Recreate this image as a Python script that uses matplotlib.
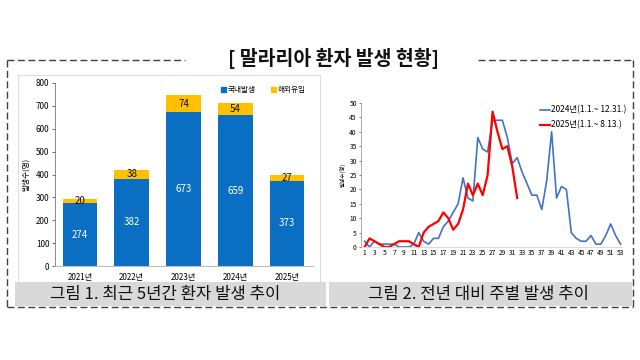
import matplotlib
matplotlib.use("Agg")
import matplotlib.pyplot as plt
from matplotlib.patches import Rectangle, Patch

plt.rcParams['font.family'] = ['Noto Sans CJK KR', 'DejaVu Sans']

# ---- data ----
years = ['2021년', '2022년', '2023년', '2024년', '2025년']
domestic = [274, 382, 673, 659, 373]
imported = [20, 38, 74, 54, 27]

weeks_2024 = list(range(1, 54))
cases_2024 = [2, 0, 2, 1, 1, 1, 1, 0, 0, 0, 1, 5, 2, 1, 3, 3, 7, 9, 12, 15,
              24, 17, 16, 38, 34, 33, 44, 44, 44, 38, 29, 31, 26, 22, 18, 18, 13, 23,
              40, 17, 21, 20, 5, 3, 2, 2, 4, 1, 1, 4, 8, 4, 1]
weeks_2025 = list(range(1, 33))
cases_2025 = [0, 3, 2, 1, 0, 0, 1, 2, 2, 2, 1, 0, 5, 7, 8, 9, 12, 10, 6, 8,
              13, 22, 18, 22, 18, 25, 47, 40, 34, 35, 28, 17]

W, H = 640, 360
fig = plt.figure(figsize=(6.4, 3.6), dpi=100)
fig.patch.set_facecolor('white')

# background / decoration layer in pixel coords
bg = fig.add_axes([0, 0, 1, 1], zorder=0)
bg.set_xlim(0, W)
bg.set_ylim(H, 0)
bg.axis('off')

dash = (0, (5, 2.5))
edge = '#404040'
# outer box
bg.plot([7, 185], [60, 60], color=edge, lw=1.0, ls=dash)
bg.plot([478, 633], [60, 60], color=edge, lw=1.0, ls=dash)
bg.plot([7, 7], [60, 307], color=edge, lw=1.0, ls=dash)
bg.plot([633, 633], [60, 307], color=edge, lw=1.0, ls=dash)
bg.plot([7, 633], [307, 307], color=edge, lw=1.0, ls=dash)
bg.text(334, 58, '[ 말라리아 환자 발생 현황]', ha='center', va='center',
        fontsize=14, fontweight='bold', color='#111111')

# left panel light frame
bg.add_patch(Rectangle((18, 75), 302, 207, fill=False, ec='#dddddd', lw=0.8))

# caption bands
bg.add_patch(Rectangle((15, 282), 311, 24, fc='#d9d9d9', ec='none'))
bg.add_patch(Rectangle((329, 282), 303, 24, fc='#d9d9d9', ec='none'))
bg.text(165, 294, '그림 1. 최근 5년간 환자 발생 추이', ha='center', va='center',
        fontsize=12, color='#111111')
bg.text(479, 294, '그림 2. 전년 대비 주별 발생 추이', ha='center', va='center',
        fontsize=12, color='#111111')

# ---- left: stacked bars ----
def px_axes(x0, y0, x1, y1):
    return [x0 / W, 1 - y1 / H, (x1 - x0) / W, (y1 - y0) / H]

ax1 = fig.add_axes(px_axes(55, 83, 313, 266), zorder=1)
ax1.set_facecolor('none')
blue = '#0a6fc2'
yellow = '#ffc000'
xs = list(range(len(years)))
ax1.bar(xs, domestic, width=0.67, color=blue, label='국내발생')
ax1.bar(xs, imported, width=0.67, bottom=domestic, color=yellow, label='해외유입')
for x, d, i in zip(xs, domestic, imported):
    ax1.text(x, d / 2, str(d), ha='center', va='center', color='white', fontsize=7)
    ax1.text(x, d + i / 2, str(i), ha='center', va='center', color='#111111', fontsize=7)
ax1.set_xlim(-0.48, 4.5)
ax1.set_ylim(0, 800)
ax1.set_yticks(range(0, 801, 100))
ax1.set_xticks(xs)
ax1.set_xticklabels(years)
ax1.tick_params(axis='y', labelsize=5.8, length=2, width=0.6, color='#555555', pad=2)
ax1.tick_params(axis='x', labelsize=5.8, length=0, pad=5)
for s in ['top', 'right']:
    ax1.spines[s].set_visible(False)
ax1.spines['left'].set_color('#777777')
ax1.spines['left'].set_linewidth(0.6)
ax1.spines['bottom'].set_color('#bbbbbb')
ax1.spines['bottom'].set_linewidth(0.8)
ax1.set_ylabel('발생수(명)', fontsize=5.5, labelpad=4)
ax1.legend(handles=[Patch(color=blue, label='국내발생'), Patch(color=yellow, label='해외유입')],
           loc='upper right', ncol=2, frameon=False, fontsize=5.5,
           handlelength=0.6, handleheight=0.6, handletextpad=0.3, columnspacing=2.0,
           bbox_to_anchor=(1.0, 1.02))

# ---- right: weekly lines ----
ax2 = fig.add_axes(px_axes(361, 103, 622, 247), zorder=1)
ax2.set_facecolor('none')
ax2.plot(weeks_2024, cases_2024, color='#4472c4', lw=1.2, label='2024년(1.1.~ 12.31.)')
ax2.plot(weeks_2025, cases_2025, color='#ff0000', lw=1.6, label='2025년(1.1.~ 8.13.)')
ax2.set_xlim(0.27, 53.3)
ax2.set_ylim(0, 50)
ax2.set_yticks(range(0, 51, 5))
ax2.set_xticks(range(1, 54, 2))
ax2.tick_params(axis='both', labelsize=4.8, length=1.5, width=0.5, color='#555555', pad=1.5)
ax2.tick_params(axis='x', length=0)
for s in ['top', 'right']:
    ax2.spines[s].set_visible(False)
ax2.spines['left'].set_color('#888888')
ax2.spines['left'].set_linewidth(0.5)
ax2.spines['bottom'].set_color('#cccccc')
ax2.spines['bottom'].set_linewidth(0.5)
ax2.set_ylabel('발생수(명)', fontsize=4, labelpad=3)
ax2.legend(loc='upper right', frameon=False, fontsize=6.0, handlelength=1.3,
           handletextpad=0.05, labelspacing=0.7, bbox_to_anchor=(1.045, 1.035))

fig.savefig('out.png', dpi=100, facecolor='white')
